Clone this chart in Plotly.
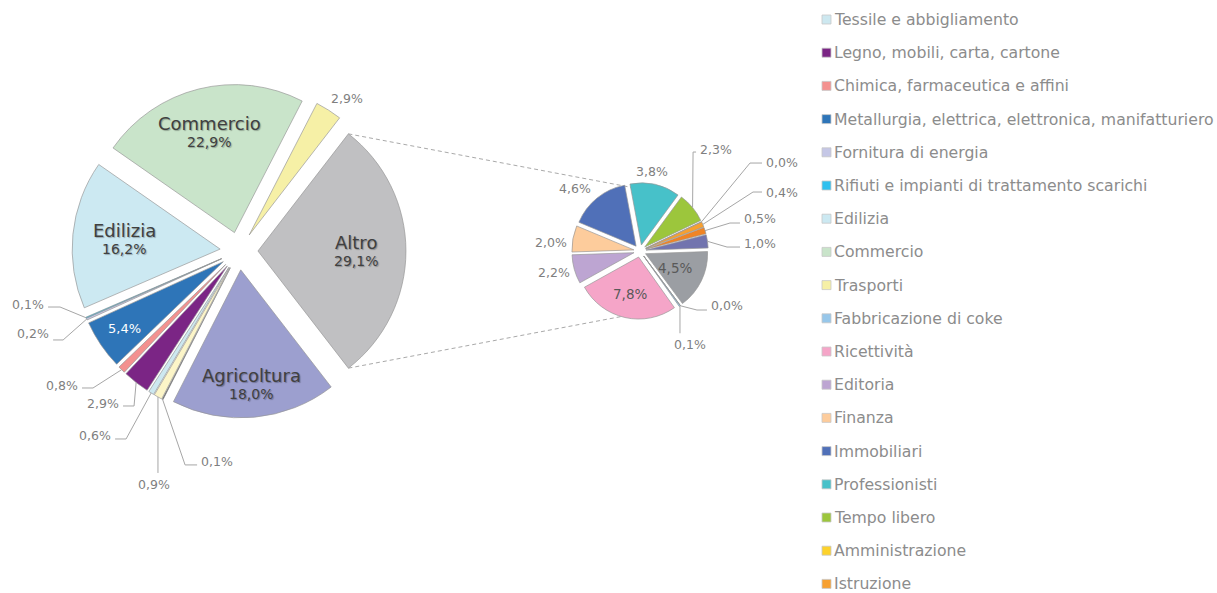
import math
import plotly.graph_objects as go

W, H = 1217, 593
FONT = "DejaVu Sans"

# ---- primary pie: sectors, the last one ("Altro") is broken out on the right
main_labels = [
    "Agricoltura", "Estrazione di minerali", "Alimentare", "Tessile e abbigliamento",
    "Legno, mobili, carta, cartone", "Chimica, farmaceutica e affini",
    "Metallurgia, elettrica, elettronica, manifatturiero", "Fornitura di energia",
    "Rifiuti e impianti di trattamento scarichi", "Edilizia", "Commercio", "Trasporti", "Altro",
]
main_values = [18.0, 0.1, 0.9, 0.6, 2.9, 0.8, 5.4, 0.2, 0.1, 16.2, 22.9, 2.9, 29.1]
main_colors = [
    "#9c9fcf", "#3f3f3f", "#fcf5c8", "#cde8f0", "#7b2585", "#f3918f", "#2e75b8",
    "#c5c7e6", "#30c0ef", "#cce9f2", "#c9e4ca", "#f6f0a6", "#c0c0c2",
]

# ---- secondary pie: breakdown of "Altro"
sec_labels = [
    "Fabbricazione di coke", "Ricettività", "Editoria", "Finanza", "Immobiliari",
    "Professionisti", "Tempo libero", "Amministrazione", "Istruzione", "Sanità",
    "Altri servizi", "Non classificate", "Famiglie",
]
sec_values = [0.1, 7.8, 2.2, 2.0, 4.6, 3.8, 2.3, 0.0, 0.4, 0.5, 1.0, 4.5, 0.0]
sec_colors = [
    "#97c7ea", "#f5a5c8", "#bda5d2", "#fdcc9c", "#5070b8", "#47c1c9", "#9cc63c",
    "#fdd22b", "#f7a030", "#f08424", "#7274ae", "#9b9ea3", "#5b8fd0",
]

# legend entries (visible portion of the list)
legend_labels = main_labels[3:12] + sec_labels[:9]

# ---- layout geometry (pixels)
C1 = (239.0, 251.0); R1 = 148.0; PULL1 = 0.128
C2 = (640.0, 251.0); R2 = 62.0; PULL2 = 0.10
ROT1 = 90 + (main_values[-1] / 2) / sum(main_values) * 360
ROT2 = 143.5

LABEL_GRAY = "#7f7f7f"
LEADER = "#a6a6a6"


def fx(x):
    return x / W


def fy(y):
    return 1 - y / H


def polar(c, dist, ang):
    t = math.radians(ang)
    return c[0] + dist * math.sin(t), c[1] - dist * math.cos(t)


def slice_mids(values, rotation):
    total = sum(values)
    mids, a = [], rotation
    for v in values:
        span = v / total * 360
        mids.append(a + span / 2)
        a += span
    return mids


def pct(v):
    return f"{v:.1f}".replace(".", ",") + "%"


def domain(c, r, pull):
    s = r * (1 + pull)
    return dict(x=[fx(c[0] - s), fx(c[0] + s)], y=[fy(c[1] + s), fy(c[1] - s)])


fig = go.Figure()
fig.add_trace(go.Pie(
    labels=main_labels, values=main_values, sort=False, direction="clockwise",
    rotation=ROT1, pull=[PULL1] * len(main_values), textinfo="none",
    marker=dict(colors=main_colors, line=dict(color="rgba(150,150,150,0.85)", width=0.8)),
    domain=domain(C1, R1, PULL1), showlegend=False, hoverinfo="label+percent",
))
fig.add_trace(go.Pie(
    labels=sec_labels, values=sec_values, sort=False, direction="clockwise",
    rotation=ROT2, pull=[PULL2] * len(sec_values), textinfo="none",
    marker=dict(colors=sec_colors, line=dict(color="rgba(150,150,150,0.85)", width=0.8)),
    domain=domain(C2, R2, PULL2), showlegend=False, hoverinfo="label+percent",
))

annotations, shapes = [], []


def text(x, y, s, size, color, xanchor="center", yanchor="middle", shadow=None):
    font = dict(family=FONT, size=size, color=color)
    if shadow:
        font["shadow"] = shadow
    annotations.append(dict(
        x=fx(x), y=fy(y), xref="paper", yref="paper", text=s, showarrow=False,
        xanchor=xanchor, yanchor=yanchor, font=font,
    ))


def path(points, color=LEADER, width=1, dash="solid"):
    d = "M " + " L ".join(f"{fx(px)},{fy(py)}" for px, py in points)
    shapes.append(dict(type="path", path=d, xref="paper", yref="paper",
                       line=dict(color=color, width=width, dash=dash), layer="above"))


mids1 = slice_mids(main_values, ROT1)
mids2 = slice_mids(sec_values, ROT2)

# connector lines from the "Altro" slice to the secondary pie
altro = len(main_values) - 1
apex_altro = polar(C1, PULL1 * R1, mids1[altro])
span_altro = main_values[altro] / sum(main_values) * 360
top_corner = polar(apex_altro, R1, mids1[altro] - span_altro / 2)
bot_corner = polar(apex_altro, R1, mids1[altro] + span_altro / 2)
for corner, end in ((top_corner, (C2[0], C2[1] - R2)), (bot_corner, (C2[0], C2[1] + R2))):
    shapes.append(dict(type="line", xref="paper", yref="paper",
                       x0=fx(corner[0]), y0=fy(corner[1]), x1=fx(end[0]), y1=fy(end[1]),
                       line=dict(color="#a9a9a9", width=1, dash="4px,3px"), layer="below"))

# inside labels: (index, radial fraction from slice apex)
SHADOW = "1px 1px 1px rgba(0,0,0,0.28)"
for i, frac in [(10, 0.70), (9, 0.65), (12, 0.66), (0, 0.775)]:
    apex = polar(C1, PULL1 * R1, mids1[i])
    x, y = polar(apex, frac * R1, mids1[i])
    text(x, y - 9, main_labels[i], 18, "#404040", shadow=SHADOW)
    text(x, y + 10, pct(main_values[i]), 14, "#404040", shadow=SHADOW)

apex = polar(C1, PULL1 * R1, mids1[6])
x, y = polar(apex, 0.81 * R1, mids1[6])
text(x, y, pct(main_values[6]), 13, "#ffffff")

for i, frac in [(1, 0.61), (11, 0.52)]:
    apex = polar(C2, PULL2 * R2, mids2[i])
    x, y = polar(apex, frac * R2, mids2[i])
    text(x, y, pct(sec_values[i]), 13.5, "#595959")


# outside labels with leader lines: (index, elbow dx, elbow dy, horizontal run, text dy)
def leader_labels(c, r, pull, mids, values, specs):
    for i, ex, ey, h, tdy in specs:
        edge = polar(c, r * (1 + pull), mids[i])
        elbow = (edge[0] + ex, edge[1] + ey)
        if h == "below":
            path([edge, elbow])
            text(elbow[0] + tdy, elbow[1] + 2, pct(values[i]), 12.5, LABEL_GRAY, yanchor="top")
            continue
        end = (elbow[0] + h, elbow[1])
        path([edge, elbow, end])
        if h < 0:
            text(end[0] - 2, end[1] + tdy, pct(values[i]), 12.5, LABEL_GRAY, xanchor="right")
        else:
            text(end[0] + 2, end[1] + tdy, pct(values[i]), 12.5, LABEL_GRAY, xanchor="left")


leader_labels(C1, R1, PULL1, mids1, main_values, [
    (8, -25.9, -10.7, -12, -3),
    (7, -23.5, 20.8, -10, -6),
    (5, -28.6, 18.3, -11, -2),
    (4, -2.1, 23.5, -11, -2),
    (3, -25.1, 46.0, -11, -3),
    (2, 0.0, 76.0, "below", -4),
    (1, 22.5, 65.5, 12, -3),
])
leader_labels(C2, R2, PULL2, mids2, sec_values, [
    (6, 0.5, -55.5, 3, -3),
    (7, 48.4, -58.7, 12, -1),
    (8, 50.2, -32.4, 9, 0),
    (9, 24.9, -7.6, 10, -5),
    (10, 19.5, 5.7, 13, -4),
    (12, 16.4, 4.2, 10, -5),
    (0, 0.0, 27.0, "below", 10),
])

# outside labels placed next to their slice: (index, dx, dy) from the slice edge
for c, r, pull, mids, values, specs in [
    (C1, R1, PULL1, mids1, main_values, [(11, 18.4, -12.1)]),
    (C2, R2, PULL2, mids2, sec_values, [(5, -3.1, -12.5), (4, -22.1, -9.0),
                                        (3, -21.9, 4.2), (2, -20.3, 3.7)]),
]:
    for i, dx, dy in specs:
        edge = polar(c, r * (1 + pull), mids[i])
        text(edge[0] + dx, edge[1] + dy, pct(values[i]), 12.5, LABEL_GRAY)

# legend
color_of = dict(zip(main_labels + sec_labels, main_colors + sec_colors))
LEG_X, LEG_TOP, LEG_STEP, SQ = 822.0, 19.5, 33.2, 9.0
for k, name in enumerate(legend_labels):
    yc = LEG_TOP + k * LEG_STEP
    shapes.append(dict(type="rect", xref="paper", yref="paper",
                       x0=fx(LEG_X), x1=fx(LEG_X + SQ), y0=fy(yc + SQ / 2), y1=fy(yc - SQ / 2),
                       fillcolor=color_of[name], line=dict(color="#c8c8c8", width=0.8)))
    text(LEG_X + SQ + 1, yc, name, 15.7, "#8c8c8c", xanchor="left")

fig.update_layout(
    width=W, height=H, margin=dict(l=0, r=0, t=0, b=0),
    paper_bgcolor="white", plot_bgcolor="white", showlegend=False,
    annotations=annotations, shapes=shapes, font=dict(family=FONT),
)
fig.write_html("out.html")
